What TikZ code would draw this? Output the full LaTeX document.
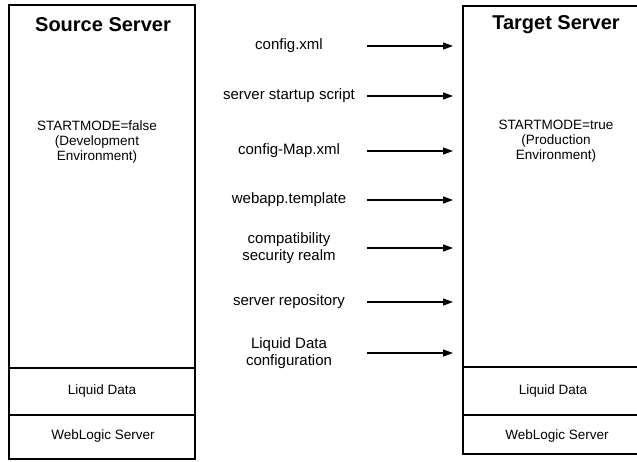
\documentclass[tikz,border=0pt]{standalone}
\usepackage{fontspec}
\setmainfont{Liberation Sans}
\usetikzlibrary{arrows.meta}

\tikzset{
  box/.style={draw, line width=2.5pt},
  head/.style={font=\fontsize{20}{22}\selectfont\bfseries},
  boxtext/.style={font=\fontsize{13.5}{15}\selectfont, align=center},
  filetext/.style={font=\fontsize{15}{17.5}\selectfont, align=center},
  copyarrow/.style={line width=1.2pt, -{Triangle[length=10pt,width=7pt]}}
}

\begin{document}
\begin{tikzpicture}[x=1pt,y=-1pt]
  \useasboundingbox (0,0) rectangle (637,461);

  % source server
  \draw[box] (9,5) rectangle (195,459);
  \draw[box] (9,368) -- (195,368);
  \draw[box] (9,415) -- (195,415);
  \node[head] (srchead) at (103,25) {Source Server};
  \node[boxtext] (srcmode) at (97,142) {STARTMODE=false\\(Development\\Environment)};
  \node[boxtext] (srcld) at (102,391) {Liquid Data};
  \node[boxtext] (srcwls) at (103,436) {WebLogic Server};

  % target server
  \draw[box] (463,6) rectangle (645,454);
  \draw[box] (463,367) -- (645,367);
  \draw[box] (463,415) -- (645,415);
  \node[head] (tgthead) at (556,25) {Target Server};
  \node[boxtext] (tgtmode) at (556,141) {STARTMODE=true\\(Production\\Environment)};
  \node[boxtext] (tgtld) at (553,391) {Liquid Data};
  \node[boxtext] (tgtwls) at (557,436) {WebLogic Server};

  % files copied across
  \foreach \i/\y/\txt in {1/46/config.xml, 2/96/server startup script,
      3/151/config-Map.xml, 4/200/webapp.template,
      5/248/{compatibility\\security realm}, 6/302/server repository,
      7/353/{Liquid Data\\configuration}} {
    \node[filetext] (file\i) at (289,\y) {\txt};
    \coordinate (from\i) at (367,\y);
    \coordinate (to\i) at (453,\y);
    \draw[copyarrow] (from\i) -- (to\i);
  }
\end{tikzpicture}
\end{document}
